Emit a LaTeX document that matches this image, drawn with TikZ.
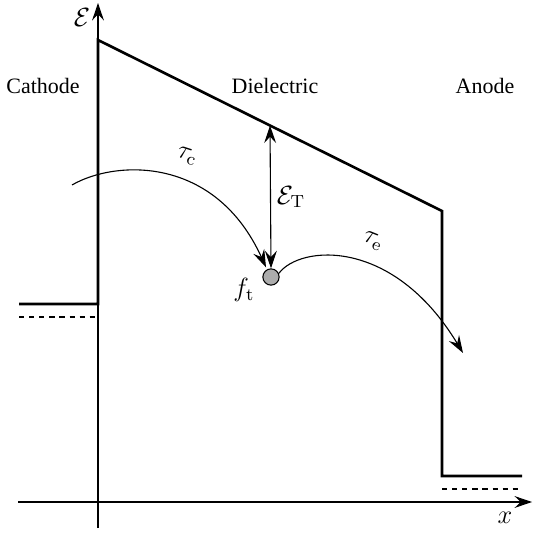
\documentclass[tikz,border=0pt]{standalone}
\usepackage{amsmath}
\usepackage[no-math]{fontspec}
\setmainfont{Liberation Serif}
\usetikzlibrary{arrows.meta}

\begin{document}
\begin{tikzpicture}[
    x=0.016cm, y=-0.016cm,
    >={Stealth[length=2.8mm, width=1.9mm, inset=1mm]},
    axis/.style={->, line width=0.5pt},
    band/.style={line width=1.2pt, line join=miter},
    fermi/.style={line width=1pt, dash pattern=on 2.4pt off 2.2pt},
    hop/.style={->, line width=0.5pt},
    region/.style={font=\rmfamily},
    sym/.style={font=\large},
    trap/.style={circle, draw=black, fill=gray!65, line width=0.5pt,
                 minimum size=0.26cm, inner sep=0pt},
  ]
    \useasboundingbox (0,0) rectangle (533,534);

    % --- axes ------------------------------------------------------------
    \coordinate (ybot) at (98,528);
    \coordinate (ytop) at (98,3);
    \coordinate (xleft) at (18,502);
    \coordinate (xright) at (532,502);
    \draw[axis] (ybot) -- (ytop);
    \draw[axis] (xleft) -- (xright);
    \node[sym] (elabel) at (82,18) {$\mathcal{E}$};
    \node[sym] (xlabel) at (505,518) {$x$};

    % --- band profile ----------------------------------------------------
    \coordinate (cl) at (19,304);
    \coordinate (cc) at (98,304);
    \coordinate (bl) at (98,40);
    \coordinate (br) at (442,211);
    \coordinate (ac) at (442,476);
    \coordinate (ar) at (522,476);
    \draw[band] (cl) -- (cc) -- (bl) -- (br) -- (ac) -- (ar);
    \path (bl) -- (br) coordinate[pos=0.5] (edge);

    % --- Fermi levels ----------------------------------------------------
    \draw[fermi] (19,317) -- (98,317);
    \draw[fermi] (442,489) -- (522,489);

    % --- regions ---------------------------------------------------------
    \node[region] (cathode) at (43,86) {Cathode};
    \node[region] (diel) at (275,86) {Dielectric};
    \node[region] (anode) at (485,86) {Anode};

    % --- trap and transitions -------------------------------------------
    \node[trap] (tr) at (271,277) {};
    \node[sym] (ft) at (244,290) {$f_\mathrm{t}$};
    \draw[<->, line width=0.5pt] (edge) -- (tr.north);
    \node[sym] (et) at (291,197) {$\mathcal{E}_\mathrm{T}$};

    \coordinate (cin) at (72,185);
    \draw[hop, shorten >=1pt] (cin) .. controls (115,160) and (215,155) .. (tr.118);
    \node[sym, rotate=-18, inner sep=1pt] (tauc) at (187,156) {$\tau_\mathrm{c}$};

    \coordinate (eout) at (463,353);
    \draw[hop] (tr.25) .. controls (300,245) and (393,237) .. (eout);
    \node[sym, rotate=-22, inner sep=1pt] (taue) at (373,241) {$\tau_\mathrm{e}$};
\end{tikzpicture}
\end{document}
